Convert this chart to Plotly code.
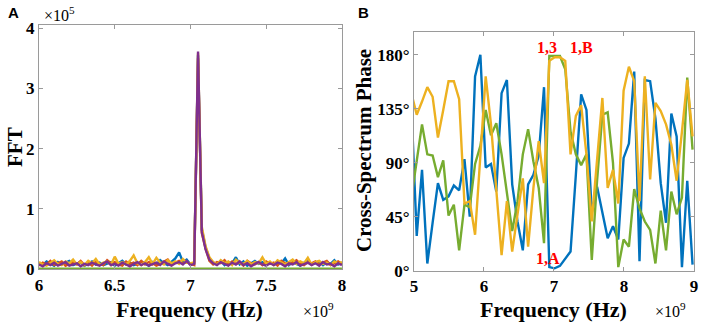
import plotly.graph_objects as go

# ---------------- Panel A: FFT (values in units of 1e5) ----------------
fft_freq_start = 6.0
fft_freq_step = 0.025
fft_blue = [0.10,0.07,0.13,0.09,0.06,0.12,0.08,0.11,0.14,0.07,
            0.09,0.12,0.06,0.10,0.13,0.08,0.11,0.07,0.09,0.12,
            0.06,0.10,0.14,0.08,0.11,0.07,0.09,0.13,0.10,0.06,
            0.12,0.08,0.15,0.10,0.07,0.13,0.18,0.28,0.12,0.16,
            0.08,0.11,3.55,0.66,0.36,0.18,0.11,0.09,0.14,0.07,
            0.12,0.10,0.20,0.08,0.13,0.06,0.10,0.14,0.09,0.12,
            0.07,0.11,0.08,0.13,0.10,0.18,0.07,0.12,0.09,0.06,
            0.11,0.14,0.08,0.10,0.13,0.07,0.12,0.09,0.15,0.08,0.11]
fft_red = [0.06,0.11,0.08,0.14,0.07,0.10,0.13,0.06,0.09,0.12,
           0.08,0.14,0.07,0.11,0.06,0.13,0.09,0.07,0.15,0.10,
           0.12,0.08,0.06,0.13,0.09,0.11,0.07,0.14,0.08,0.12,
           0.10,0.06,0.09,0.13,0.16,0.08,0.11,0.14,0.10,0.12,
           0.09,0.07,3.50,0.60,0.34,0.14,0.08,0.12,0.10,0.15,
           0.07,0.13,0.09,0.11,0.06,0.14,0.10,0.08,0.12,0.07,
           0.13,0.09,0.11,0.06,0.14,0.10,0.08,0.12,0.15,0.09,
           0.07,0.12,0.10,0.13,0.08,0.11,0.14,0.07,0.10,0.13,0.09]
fft_yellow = [0.12,0.08,0.06,0.11,0.15,0.09,0.07,0.13,0.10,0.16,
              0.08,0.12,0.07,0.14,0.10,0.17,0.08,0.11,0.13,0.07,
              0.21,0.09,0.12,0.08,0.14,0.23,0.10,0.07,0.12,0.20,
              0.09,0.19,0.11,0.08,0.15,0.10,0.13,0.09,0.17,0.11,
              0.10,0.12,3.58,0.70,0.38,0.20,0.12,0.08,0.15,0.10,
              0.13,0.07,0.16,0.11,0.09,0.14,0.08,0.12,0.10,0.20,
              0.09,0.13,0.07,0.15,0.11,0.08,0.12,0.16,0.09,0.13,
              0.10,0.19,0.08,0.12,0.14,0.09,0.11,0.07,0.13,0.10,0.12]
fft_purple = [0.08,0.05,0.10,0.07,0.11,0.06,0.09,0.12,0.06,0.08,
              0.10,0.05,0.09,0.07,0.11,0.08,0.06,0.10,0.13,0.07,
              0.09,0.06,0.11,0.08,0.05,0.09,0.12,0.07,0.10,0.06,
              0.08,0.11,0.07,0.13,0.09,0.06,0.10,0.12,0.08,0.14,
              0.07,0.09,3.61,0.62,0.33,0.16,0.10,0.07,0.12,0.09,
              0.06,0.11,0.08,0.13,0.07,0.10,0.05,0.09,0.12,0.08,
              0.06,0.10,0.07,0.11,0.09,0.05,0.10,0.08,0.12,0.06,
              0.09,0.11,0.07,0.10,0.06,0.12,0.08,0.09,0.05,0.10,0.07]
fft_green = [0.01,0.01,0.01,0.01,0.01,0.01,0.01,0.01,0.01,0.01,
             0.01,0.01,0.01,0.01,0.01,0.01,0.01,0.01,0.01,0.01,
             0.01,0.01,0.01,0.01,0.01,0.01,0.01,0.01,0.01,0.01,
             0.01,0.01,0.01,0.01,0.01,0.01,0.01,0.01,0.01,0.01,
             0.01,0.01,0.01,0.01,0.01,0.01,0.01,0.01,0.01,0.01,
             0.01,0.01,0.01,0.01,0.01,0.01,0.01,0.01,0.01,0.01,
             0.01,0.01,0.01,0.01,0.01,0.01,0.01,0.01,0.01,0.01,
             0.01,0.01,0.01,0.01,0.01,0.01,0.01,0.01,0.01,0.01,0.01]
fft_xticks = [6, 6.5, 7, 7.5, 8]
fft_xticklabels = ["6", "6.5", "7", "7.5", "8"]
fft_yticks = [0, 1, 2, 3, 4]
fft_yticklabels = ["0", "1", "2", "3", "4"]

# ---------------- Panel B: cross-spectrum phase (degrees) ----------------
phase_freq_start = 4.963
phase_freq_step = 0.0758
phase_blue = [137, 29, 84, 6, 40, 73, 59, 62, 71, 67, 93, 45, 162, 180, 86, 89, 66, 148,
              159, 72, 41, 17, 72, 80, 96, 153, 3, 2, 4, 10, 16, 80, 147, 134, 48, 70,
              48, 27, 37, 26, 94, 106, 166, 8, 159, 158, 127, 73, 40, 131, 112, 3, 75, 5]
phase_green = [61, 90, 122, 97, 96, 78, 92, 46, 55, 17, 55, 53, 89, 104, 134, 113, 123, 97,
               66, 33, 58, 97, 118, 91, 69, 23, 179, 179, 179, 168, 116, 97, 88, 97, 9, 75,
               130, 132, 90, 3, 26, 20, 68, 52, 41, 34, 6, 50, 17, 66, 47, 61, 161, 101]
phase_yellow = [148, 130, 141, 153, 145, 111, 134, 158, 158, 143, 56, 58, 30, 96, 162, 122, 66, 13,
                58, 16, 47, 77, 20, 69, 108, 73, 175, 178, 178, 175, 97, 129, 138, 97, 41, 91,
                144, 69, 84, 56, 150, 170, 158, 58, 162, 76, 140, 133, 122, 105, 75, 116, 159, 112]
phase_xticks = [5, 6, 7, 8, 9]
phase_xticklabels = ["5", "6", "7", "8", "9"]
phase_yticks = [0, 45, 90, 135, 180]
phase_yticklabels = ["0°", "45°", "90°", "135°", "180°"]

phase_labels = ["1,3", "1,B", "1,A"]
phase_label_x = [6.90, 7.40, 6.92]
phase_label_y = [186, 186, 10]

# ---------------- build ----------------
W, H = 702, 326
BLUE, RED, YELLOW, PURPLE, GREEN = "#0072BD", "#D95319", "#EDB120", "#7E2F8E", "#77AC30"
SERIF = "Liberation Serif"

fft_x = [fft_freq_start + fft_freq_step * i for i in range(len(fft_blue))]
phase_x = [phase_freq_start + phase_freq_step * i for i in range(len(phase_blue))]

fig = go.Figure()
for ys, c in [(fft_blue, BLUE), (fft_red, RED), (fft_yellow, YELLOW), (fft_green, GREEN), (fft_purple, PURPLE)]:
    fig.add_trace(go.Scatter(x=fft_x, y=ys, mode="lines", line=dict(color=c, width=2.4),
                             xaxis="x", yaxis="y", showlegend=False, hoverinfo="skip"))
for ys, c in [(phase_blue, BLUE), (phase_green, GREEN), (phase_yellow, YELLOW)]:
    fig.add_trace(go.Scatter(x=phase_x, y=ys, mode="lines", line=dict(color=c, width=2.4),
                             xaxis="x2", yaxis="y2", showlegend=False, hoverinfo="skip"))

def px(x):
    return x / W

def py(y):
    return 1 - y / H

axis_common = dict(showgrid=False, zeroline=False, showline=True, linecolor="#9a9a9a", linewidth=1,
                   mirror="ticks", ticks="inside", ticklen=4, tickcolor="#9a9a9a", automargin=False,
                   tickfont=dict(family=SERIF, size=17, color="black", weight="bold"))

fig.update_layout(
    width=W, height=H, margin=dict(l=0, r=0, t=0, b=0, pad=0, autoexpand=False),
    paper_bgcolor="white", plot_bgcolor="white",
    xaxis=dict(domain=[px(39), px(342)], range=[6, 8.0005], anchor="y",
               tickvals=fft_xticks, ticktext=fft_xticklabels, **axis_common),
    yaxis=dict(domain=[py(269.3), py(25)], range=[0, 4.05], anchor="x",
               tickvals=fft_yticks, ticktext=fft_yticklabels, **axis_common),
    xaxis2=dict(domain=[px(414), px(694)], range=[5, 9.001], anchor="y2",
                tickvals=phase_xticks, ticktext=phase_xticklabels, **axis_common),
    yaxis2=dict(domain=[py(270.7), py(32)], range=[0, 199], anchor="x2",
                tickvals=phase_yticks, ticktext=phase_yticklabels, **axis_common),
)

ann = []
def text(x, y, s, size, bold=True, family=SERIF, angle=0, color="black", xanchor="center"):
    ann.append(dict(x=px(x), y=py(y), xref="paper", yref="paper", text=s, showarrow=False,
                    textangle=angle, xanchor=xanchor, yanchor="middle",
                    font=dict(family=family, size=size, color=color, weight="bold" if bold else "normal")))

text(13, 12, "A", 15, family="Liberation Sans")
text(363, 12, "B", 15, family="Liberation Sans")
text(15, 147, "FFT", 21, angle=-90)
text(189, 309, "Frequency (Hz)", 22)
text(553, 309, "Frequency (Hz)", 22)
text(364, 151, "Cross-Spectrum Phase", 21, angle=-90)
text(42, 14, "×10<sup>5</sup>", 16, bold=False, xanchor="left")
text(301, 310, "×10<sup>9</sup>", 16, bold=False, xanchor="left")
text(653, 310, "×10<sup>9</sup>", 16, bold=False, xanchor="left")
for lab, lx, ly in zip(phase_labels, phase_label_x, phase_label_y):
    ann.append(dict(x=lx, y=ly, xref="x2", yref="y2", text=lab, showarrow=False,
                    font=dict(family=SERIF, size=16, color="red", weight="bold")))
fig.update_layout(annotations=ann)

fig.write_html(
    "out.html",
    config={"displayModeBar": False, "staticPlot": True},
    post_script="document.body.style.margin='0';document.body.style.padding='0';"
                "document.documentElement.style.overflow='hidden';",
)
